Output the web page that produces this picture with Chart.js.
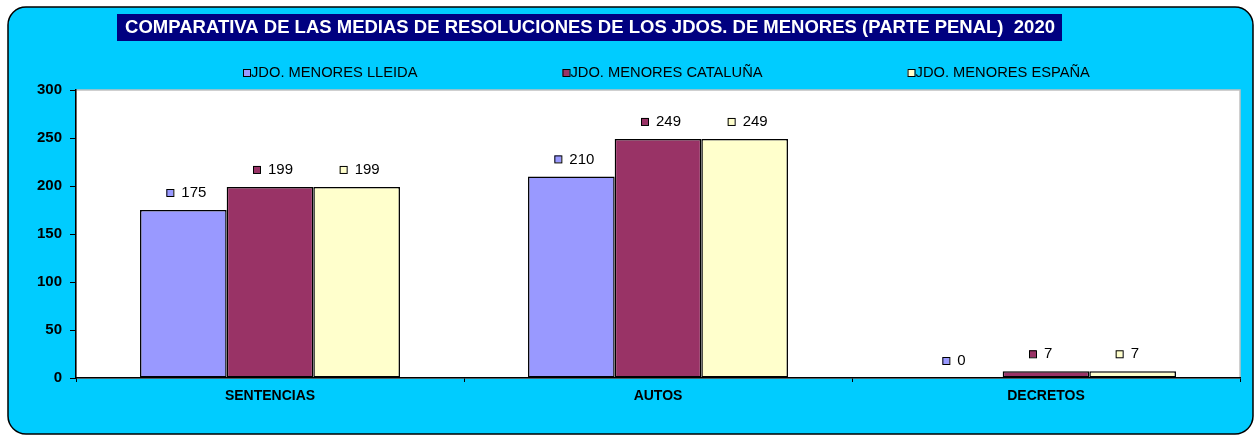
<!DOCTYPE html>
<html>
<head>
<meta charset="utf-8">
<script src="https://cdn.jsdelivr.net/npm/chart.js@4/dist/chart.umd.min.js"></script>
<style>
  html, body { margin: 0; padding: 0; background: #fff; }
  #wrap { width: 1258px; height: 436px; }
</style>
</head>
<body>
<div id="wrap"><canvas id="resChart" width="1258" height="436"></canvas></div>
<script>
/* ===== data ===== */
const chartTitle = "COMPARATIVA DE LAS MEDIAS DE RESOLUCIONES DE LOS JDOS. DE MENORES (PARTE PENAL)  2020";
const categories = ["SENTENCIAS", "AUTOS", "DECRETOS"];
const seriesNames = ["JDO. MENORES LLEIDA", "JDO. MENORES CATALUÑA", "JDO. MENORES ESPAÑA"];
const lleida = [175, 210, 0];
const cataluna = [199, 249, 7];
const espana = [199, 249, 7];
const yTicks = [0, 50, 100, 150, 200, 250, 300];

const seriesColors = ["#9999FF", "#993366", "#FFFFCC"];
const FONT = "Arial, 'Liberation Sans', sans-serif";

/* ===== background box, title and plot area ===== */
const frame = {
  id: "frame",
  beforeDraw(chart) {
    const { ctx, chartArea: a } = chart;
    ctx.save();
    // outer rounded panel
    ctx.beginPath();
    ctx.roundRect(8, 7, 1245, 427, 18);
    ctx.fillStyle = "#00CCFF";
    ctx.fill();
    ctx.lineWidth = 1.5;
    ctx.strokeStyle = "#000";
    ctx.stroke();

    // title band
    ctx.fillStyle = "#000080";
    ctx.fillRect(117, 14, 945, 27);
    ctx.fillStyle = "#fff";
    ctx.font = "bold 18.5px " + FONT;
    ctx.textAlign = "center";
    ctx.textBaseline = "middle";
    ctx.fillText(chartTitle, 590, 28);

    // plot area
    ctx.fillStyle = "#fff";
    ctx.fillRect(a.left, a.top, a.right - a.left, a.bottom - a.top);
    ctx.strokeStyle = "#C0C0C0";
    ctx.lineWidth = 1.5;
    ctx.strokeRect(a.left, a.top, a.right - a.left, a.bottom - a.top);

    // legend
    ctx.font = "14.7px " + FONT;
    ctx.textAlign = "left";
    let x = 243;
    chart.data.datasets.forEach((ds) => {
      ctx.fillStyle = ds.backgroundColor;
      ctx.fillRect(x, 69, 7, 7);
      ctx.strokeStyle = "#000";
      ctx.lineWidth = 1;
      ctx.strokeRect(x + 0.5, 69.5, 7, 7);
      ctx.fillStyle = "#000";
      ctx.fillText(ds.label, x + 8, 73);
      x += 8 + ctx.measureText(ds.label).width + 145;
    });
    ctx.restore();
  },
};

/* ===== value labels with series marker ===== */
const valueLabels = {
  id: "valueLabels",
  afterDatasetsDraw(chart) {
    const { ctx } = chart;
    ctx.save();
    ctx.font = "15px " + FONT;
    ctx.textAlign = "left";
    ctx.textBaseline = "middle";
    chart.data.datasets.forEach((ds, i) => {
      chart.getDatasetMeta(i).data.forEach((bar, j) => {
        const y = bar.y - 17;
        ctx.fillStyle = ds.backgroundColor;
        ctx.fillRect(bar.x - 17, y - 4, 7, 7);
        ctx.strokeStyle = "#000";
        ctx.lineWidth = 1;
        ctx.strokeRect(bar.x - 16.5, y - 3.5, 7, 7);
        ctx.fillStyle = "#000";
        ctx.fillText(String(ds.data[j]), bar.x - 2, y);
      });
    });
    ctx.restore();
  },
};

const ctx = document.getElementById("resChart").getContext("2d");
new Chart(ctx, {
  type: "bar",
  data: {
    labels: categories,
    datasets: [lleida, cataluna, espana].map((vals, i) => ({
      label: seriesNames[i],
      data: vals,
      backgroundColor: seriesColors[i],
      borderColor: "#000",
      borderWidth: 1.5,
      borderSkipped: false,
      categoryPercentage: 0.67,
      barPercentage: 1.0,
    })),
  },
  options: {
    responsive: false,
    animation: false,
    events: [],
    layout: { padding: { left: 10, right: 18, top: 90, bottom: 28 } },
    plugins: {
      legend: { display: false },
      title: { display: false },
      tooltip: { enabled: false },
    },
    scales: {
      x: {
        border: { color: "#000", width: 1.5 },
        grid: { drawOnChartArea: false, tickLength: 4, color: "#000", offset: true },
        ticks: { color: "#000", padding: 6, font: { family: FONT, size: 14, weight: "bold" } },
        afterFit: (s) => { s.height = 30; },
      },
      y: {
        min: 0,
        max: 300,
        afterBuildTicks: (s) => { s.ticks = yTicks.map((v) => ({ value: v })); },
        border: { color: "#000", width: 1.5 },
        grid: { drawOnChartArea: false, tickLength: 6, color: "#000" },
        ticks: { color: "#000", padding: 8, font: { family: FONT, size: 15, weight: "bold" } },
        afterFit: (s) => { s.width = 66; },
      },
    },
  },
  plugins: [frame, valueLabels],
});
</script>
</body>
</html>
